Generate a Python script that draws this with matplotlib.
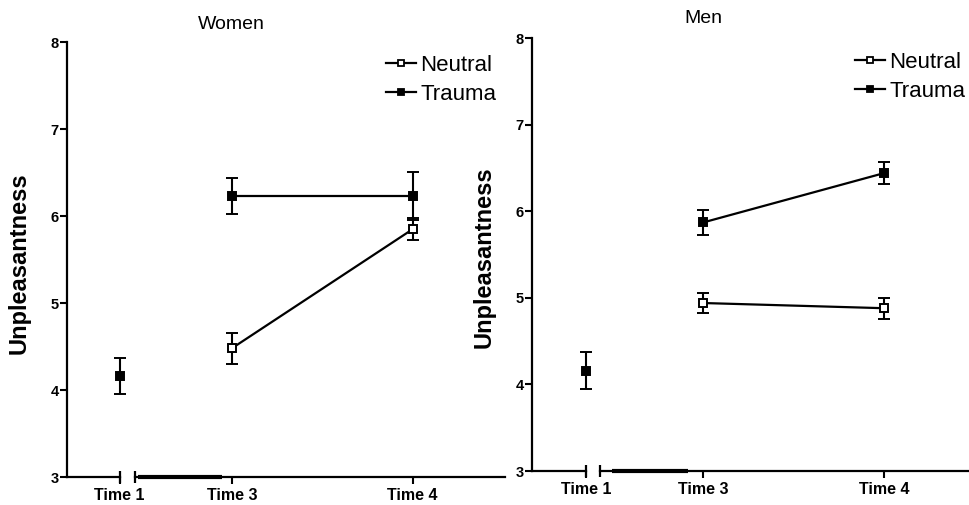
import matplotlib
matplotlib.use("Agg")
import matplotlib.pyplot as plt
from matplotlib.lines import Line2D

plt.rcParams['font.family'] = ['Liberation Sans', 'DejaVu Sans']

# data
times = ['Time 1', 'Time 3', 'Time 4']
series = ['Neutral', 'Trauma']

women_base = 4.16
women_base_err = 0.21
women_neutral = [4.48, 5.85]
women_neutral_err = [0.18, 0.13]
women_trauma = [6.23, 6.23]
women_trauma_err = [0.21, 0.28]

men_base = 4.16
men_base_err = 0.21
men_neutral = [4.94, 4.88]
men_neutral_err = [0.12, 0.12]
men_trauma = [5.87, 6.44]
men_trauma_err = [0.14, 0.13]

yticks = [3, 4, 5, 6, 7, 8]

fig = plt.figure(figsize=(9.7, 5.05), dpi=100)


def panel(rect, xpos, xlim, gap, thick, title, title_y, base, base_err,
          neutral, neutral_err, trauma, trauma_err, leg_xy, ylab_xy):
    ax = fig.add_axes(rect)
    ax.set_xlim(xlim)
    ax.set_ylim(3, 8)
    for s in ['top', 'right', 'bottom']:
        ax.spines[s].set_visible(False)
    ax.spines['left'].set_linewidth(1.6)

    kw = dict(color='black', lw=1.6, capsize=4, capthick=1.5, elinewidth=1.5,
              markersize=5.5, markeredgewidth=1.4, clip_on=False)
    ax.errorbar([xpos[0]], [base], yerr=[base_err], fmt='s', mfc='black', **kw)
    ax.errorbar(xpos[1:], neutral, yerr=neutral_err, fmt='-s', mfc='white', **kw)
    ax.errorbar(xpos[1:], trauma, yerr=trauma_err, fmt='-s', mfc='black', **kw)

    # broken x axis
    ax.plot([xlim[0], xpos[0]], [3, 3], color='black', lw=1.6, clip_on=False)
    ax.plot([xpos[0]], [3], marker='|', ms=9, mew=1.6, color='black', clip_on=False)
    ax.plot([gap, xlim[1]], [3, 3], color='black', lw=1.6, clip_on=False)
    ax.plot([gap], [3], marker='|', ms=9, mew=1.6, color='black', clip_on=False)
    ax.plot(thick, [3, 3], color='black', lw=3, clip_on=False, solid_capstyle='butt')

    ax.set_xticks(xpos)
    ax.set_xticklabels(times, fontsize=11.5, fontweight='bold')
    ax.set_yticks(yticks)
    ax.set_yticklabels([str(t) for t in yticks], fontsize=10.5, fontweight='bold')
    ax.tick_params(axis='y', length=5, width=1.5, pad=1)
    ax.tick_params(axis='x', length=5, width=1.5, pad=3)

    ax.text(xpos[1], title_y, title, fontsize=14, ha='center', va='center',
            transform=ax.get_xaxis_transform())

    handles = [Line2D([], [], color='black', lw=1.6, marker='s', ms=5,
                      mew=1.3, mfc=fc) for fc in ['white', 'black']]
    ax.legend(handles, series, loc='upper left', bbox_to_anchor=leg_xy,
              bbox_transform=fig.transFigure, frameon=False, fontsize=16,
              handlelength=1.35, handletextpad=0.2, borderpad=0,
              borderaxespad=0, labelspacing=0.35)
    fig.text(ylab_xy[0], ylab_xy[1], 'Unpleasantness', rotation=90,
             fontsize=17, fontweight='bold', ha='center', va='center')
    return ax


panel([0.069, 0.0554, 0.4515, 0.861], [0.38, 1, 2], (0.088, 2.51),
      0.464, [0.48, 0.945], 'Women', 1.041,
      women_base, women_base_err, women_neutral, women_neutral_err,
      women_trauma, women_trauma_err, (0.398, 0.891), (0.0196, 0.479))

panel([0.5485, 0.0673, 0.4515, 0.8574], [0.354, 1, 2], (0.055, 2.475),
      0.431, [0.497, 0.917], 'Men', 1.046,
      men_base, men_base_err, men_neutral, men_neutral_err,
      men_trauma, men_trauma_err, (0.881, 0.897), (0.499, 0.491))

fig.savefig('out.png', dpi=100)
